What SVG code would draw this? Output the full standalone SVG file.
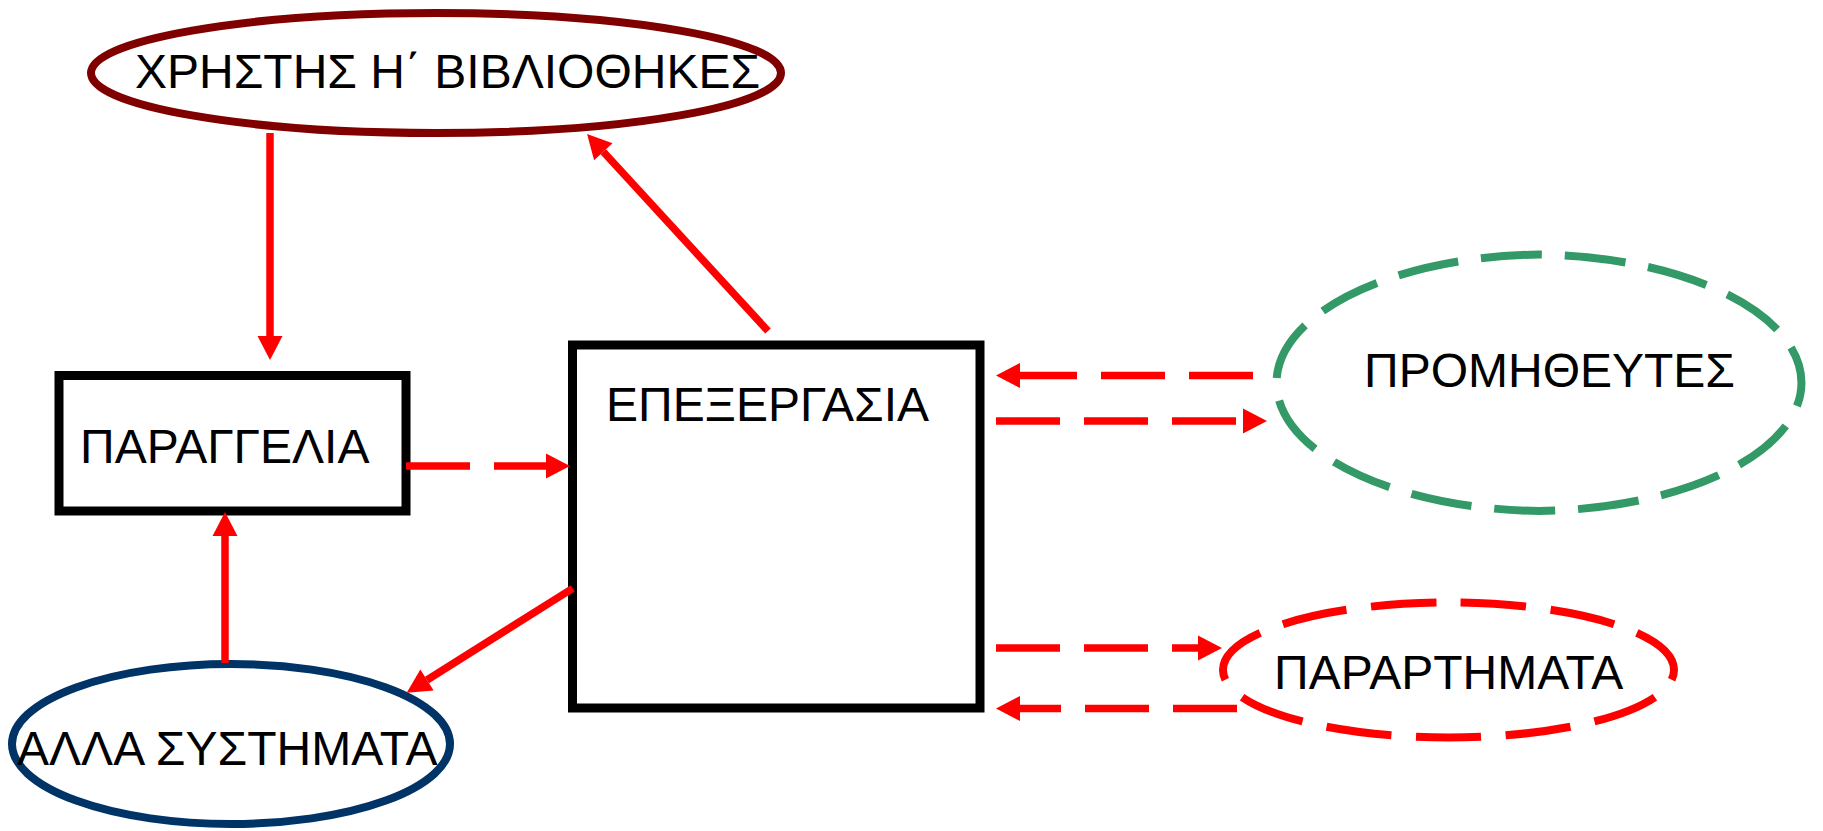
<svg xmlns="http://www.w3.org/2000/svg" width="1823" height="831" viewBox="0 0 1823 831">
<style>
text{font-family:"Liberation Sans",Arial,sans-serif;font-size:48px;fill:#000}
.box{fill:#fff;stroke:#000;stroke-width:9}
.ell{fill:#fff;stroke-width:8}
.ln{stroke:#f00;stroke-width:7.5;fill:none}
.dash{stroke-dasharray:64 24}
</style>
<defs>
<marker id="ah" viewBox="0 -12.5 24 25" refX="0" refY="0" markerWidth="24" markerHeight="25" markerUnits="userSpaceOnUse" orient="auto" overflow="visible">
<path d="M0,-12.5 L24,0 L0,12.5 Z" fill="#f00"/>
</marker>
</defs>
<rect width="1823" height="831" fill="#fff"/>
<g id="n-users">
<ellipse class="ell" cx="436" cy="73" rx="345" ry="60" stroke="#800000"/>
<text x="135" y="88">ΧΡΗΣΤΗΣ Η΄ ΒΙΒΛΙΟΘΗΚΕΣ</text>
</g>
<g id="n-order">
<rect class="box" x="59" y="375.5" width="347" height="135.5"/>
<text x="80" y="463">ΠΑΡΑΓΓΕΛΙΑ</text>
</g>
<g id="n-process">
<rect class="box" x="572.5" y="345" width="407.5" height="363"/>
<text x="606" y="421">ΕΠΕΞΕΡΓΑΣΙΑ</text>
</g>
<g id="n-other">
<ellipse class="ell" cx="231" cy="744" rx="219" ry="80" stroke="#003366"/>
<text x="17" y="765">ΑΛΛΑ ΣΥΣΤΗΜΑΤΑ</text>
</g>
<g id="n-suppliers">
<path class="ell" stroke="#339966" pathLength="1320" stroke-dasharray="64 24" stroke-dashoffset="61" d="M1539,254.5 A270,128.3 0 0 1 1539,511 A270,128.3 0 0 1 1539,254.5 Z"/>
<text x="1364" y="387">ΠΡΟΜΗΘΕΥΤΕΣ</text>
</g>
<g id="n-attachments">
<path class="ell" stroke="#ff0000" pathLength="968" stroke-dasharray="64 24" stroke-dashoffset="76" d="M1448.5,602.5 A225.5,67.5 0 0 1 1448.5,737.5 A225.5,67.5 0 0 1 1448.5,602.5 Z"/>
<text x="1274" y="689">ΠΑΡΑΡΤΗΜΑΤΑ</text>
</g>
<g id="connectors">
<line class="ln" x1="270" y1="133" x2="270" y2="336" marker-end="url(#ah)"/>
<line class="ln" x1="768" y1="331" x2="603.3" y2="151.7" marker-end="url(#ah)"/>
<line class="ln" x1="225" y1="663" x2="225" y2="536" marker-end="url(#ah)"/>
<line class="ln" x1="572.7" y1="588.3" x2="427" y2="680" marker-end="url(#ah)"/>
<line class="ln dash" x1="406" y1="466" x2="546" y2="466" marker-end="url(#ah)"/>
<line class="ln dash" x1="1253" y1="375.5" x2="1020" y2="375.5" marker-end="url(#ah)"/>
<line class="ln dash" x1="996" y1="421" x2="1243" y2="421" marker-end="url(#ah)"/>
<line class="ln dash" x1="996" y1="648" x2="1198" y2="648" marker-end="url(#ah)"/>
<line class="ln dash" x1="1237" y1="708.5" x2="1020" y2="708.5" marker-end="url(#ah)"/>
</g>
</svg>
